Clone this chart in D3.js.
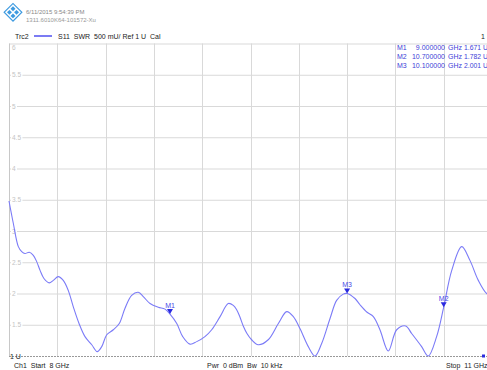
<!DOCTYPE html>
<html><head><meta charset="utf-8">
<script src="https://cdn.jsdelivr.net/npm/d3@7"></script>
<style>body{margin:0;background:#fff;overflow:hidden}svg{display:block}</style>
</head><body>
<script>
// ---- data ----
const freqGHz = [8.000,8.027,8.058,8.079,8.099,8.126,8.151,8.172,8.193,8.217,8.250,8.275,8.306,8.337,8.368,8.399,8.435,8.472,8.514,8.548,8.576,8.607,8.648,8.685,8.720,8.762,8.803,8.834,8.876,8.927,8.969,9.000,9.042,9.079,9.124,9.166,9.217,9.259,9.311,9.362,9.393,9.414,9.435,9.455,9.478,9.507,9.548,9.610,9.673,9.725,9.766,9.807,9.859,9.901,9.942,9.994,10.035,10.076,10.100,10.149,10.180,10.224,10.263,10.304,10.356,10.408,10.464,10.501,10.563,10.604,10.656,10.700,10.750,10.812,10.863,10.915,10.967,11.000];
const swr =     [3.48,3.12,2.75,2.67,2.64,2.66,2.61,2.51,2.37,2.24,2.17,2.21,2.27,2.21,2.05,1.79,1.52,1.31,1.18,1.07,1.15,1.34,1.42,1.52,1.76,1.97,2.02,1.95,1.84,1.78,1.75,1.671,1.52,1.31,1.19,1.23,1.31,1.42,1.63,1.84,1.81,1.74,1.62,1.48,1.36,1.26,1.18,1.26,1.52,1.71,1.63,1.44,1.15,1.00,1.20,1.60,1.89,1.99,2.001,1.92,1.82,1.70,1.63,1.42,1.08,1.42,1.48,1.36,1.15,1.00,1.31,1.782,2.37,2.75,2.53,2.21,2.00,1.97];
const markerNames = ["M1","M2","M3"];
const markerFreq  = [9.0, 10.7, 10.1];
const markerVal   = [1.671, 1.782, 2.001];
const markerFreqText = ["9.000000","10.700000","10.100000"];
const markerValText  = ["1.671 U","1.782 U","2.001 U"];
const yTickValues = [6,5.5,5,4.5,4,3.5,3,2.5,2,1.5];
const yTickLabels = ["6","5.5","5","4.5","4","3.5","3","2.5","2","1.5"];
const xGridValues = [8.3,8.6,8.9,9.2,9.5,9.8,10.1,10.4,10.7,11.0];

const W=487,H=370;
const svg=d3.select("body").append("svg").attr("width",W).attr("height",H);
const x=d3.scaleLinear().domain([8,11]).range([9,492]);
const y=d3.scaleLinear().domain([1,6]).range([356,43.5]);
const font="'Liberation Sans', Arial, sans-serif";

// header logo (diamond pattern)
const logo=svg.append("g").attr("transform","translate(13,12) rotate(45)");
[[-4,-4],[1,-4],[-4,1],[1,1]].forEach(([a,b])=>logo.append("rect").attr("x",a).attr("y",b).attr("width",3.5).attr("height",3.5).attr("fill","#3d9ae0"));
logo.append("rect").attr("x",-6).attr("y",-6).attr("width",12.5).attr("height",12.5).attr("fill","none").attr("stroke","#3d9ae0").attr("stroke-width",1.2);
svg.append("text").attr("x",26).attr("y",14).text("6/11/2015 9:54:39 PM").attr("font-family",font).attr("font-size",6).attr("fill","#888");
svg.append("text").attr("x",26).attr("y",21.5).text("1311.6010K64-101572-Xu").attr("font-family",font).attr("font-size",6).attr("fill","#999");
svg.append("text").attr("x",15).attr("y",38.5).text("Trc2").attr("font-family",font).attr("font-size",7).attr("fill","#222");
svg.append("line").attr("x1",34).attr("x2",52).attr("y1",36).attr("y2",36).attr("stroke","#5a5af0").attr("stroke-width",1.6);
svg.append("text").attr("x",58).attr("y",38.5).attr("xml:space","preserve").text("S11  SWR  500 mU/ Ref 1 U  Cal").attr("font-family",font).attr("font-size",7).attr("fill","#222");
svg.append("text").attr("x",481).attr("y",38.5).text("1").attr("font-family",font).attr("font-size",7).attr("fill","#222");

// grid
const g=svg.append("g");
yTickValues.forEach(v=>g.append("line").attr("x1",x(8)).attr("x2",W).attr("y1",y(v)+0.5).attr("y2",y(v)+0.5).attr("stroke","#d9d9d9").attr("stroke-width",1));
xGridValues.forEach(v=>g.append("line").attr("x1",Math.round(x(v))+0.5).attr("x2",Math.round(x(v))+0.5).attr("y1",y(6)).attr("y2",y(1)).attr("stroke","#d9d9d9"));
g.append("line").attr("x1",x(8)+0.5).attr("x2",x(8)+0.5).attr("y1",y(6)).attr("y2",y(1)).attr("stroke","#c8c8c8");
g.append("line").attr("x1",x(8)).attr("x2",W).attr("y1",y(1)+0.5).attr("y2",y(1)+0.5).attr("stroke","#999").attr("stroke-dasharray","2,1");

// y tick labels
yTickValues.forEach((v,i)=>{
  const ty = v===6 ? y(v)+6 : y(v)+2.5;
  const t=g.append("text").attr("x",12).attr("y",ty).text(yTickLabels[i]).attr("font-family",font).attr("font-size",6.5).attr("fill","#c4c4c4");
  const bb=t.node().getBBox();
  if(v!==6) g.insert("rect","text").attr("x",bb.x-1).attr("y",bb.y).attr("width",bb.width+2).attr("height",bb.height).attr("fill","#fff");
});
svg.append("text").attr("x",10).attr("y",359).text("1 U").attr("font-family",font).attr("font-size",7).attr("fill","#222");

// trace
const data=freqGHz.map((f,i)=>[f,swr[i]]);
svg.append("path").datum(data).attr("d",d3.line().x(d=>x(d[0])).y(d=>y(d[1])).curve(d3.curveCatmullRom.alpha(0.5)))
  .attr("fill","none").attr("stroke","#7b7bf7").attr("stroke-width",1.1);

// markers
markerNames.forEach((m,i)=>{
  const px=x(markerFreq[i]), py=y(markerVal[i]);
  svg.append("path").attr("d",`M${px-3},${py-5}L${px+3},${py-5}L${px},${py}Z`).attr("fill","#2a2ae0");
  svg.append("text").attr("x",px).attr("y",py-6.5).attr("text-anchor","middle").text(m).attr("font-family",font).attr("font-size",7).attr("fill","#4848e8");
});
// marker table
markerNames.forEach((m,i)=>{
  const ty=50+i*9;
  const c="#4040d8";
  svg.append("text").attr("x",397).attr("y",ty).text(m).attr("font-family",font).attr("font-size",7).attr("fill",c);
  svg.append("text").attr("x",445).attr("y",ty).attr("text-anchor","end").text(markerFreqText[i]).attr("font-family",font).attr("font-size",7).attr("fill",c);
  svg.append("text").attr("x",448).attr("y",ty).text("GHz").attr("font-family",font).attr("font-size",7).attr("fill",c);
  svg.append("text").attr("x",464).attr("y",ty).text(markerValText[i]).attr("font-family",font).attr("font-size",6.8).attr("fill",c);
});

// bottom
svg.append("rect").attr("x",482).attr("y",354.5).attr("width",3).attr("height",3).attr("fill","#2a2ae0");
svg.append("text").attr("x",14).attr("y",368).attr("xml:space","preserve").text("Ch1  Start  8 GHz").attr("font-family",font).attr("font-size",7).attr("fill","#222");
svg.append("text").attr("x",207).attr("y",368).attr("xml:space","preserve").text("Pwr  0 dBm  Bw  10 kHz").attr("font-family",font).attr("font-size",7).attr("fill","#222");
svg.append("text").attr("x",446).attr("y",368).attr("xml:space","preserve").text("Stop  11 GHz").attr("font-family",font).attr("font-size",7).attr("fill","#222");
</script>
</body></html>
